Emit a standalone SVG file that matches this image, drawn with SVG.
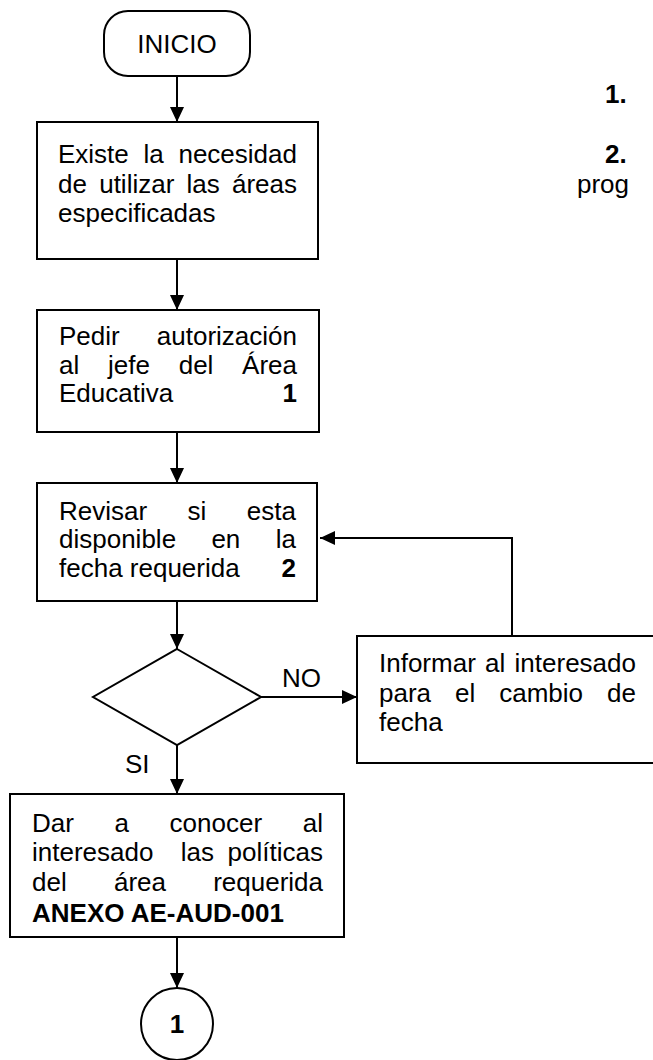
<svg xmlns="http://www.w3.org/2000/svg" width="653" height="1060" viewBox="0 0 653 1060">
<style>
.t{font-family:"Liberation Sans",Arial,sans-serif;font-size:26px;fill:#000}
.b{font-weight:bold}
.box{fill:#fff;stroke:#000;stroke-width:2}
.ln{fill:none;stroke:#000;stroke-width:2}
</style>
<defs>
<marker id="ah" markerUnits="userSpaceOnUse" markerWidth="16" markerHeight="16" refX="15" refY="7" orient="auto">
<path d="M0,0 L15,7 L0,14 z" fill="#000"/>
</marker>
</defs>
<rect width="653" height="1060" fill="#fff"/>
<g id="connectors">
<line class="ln" x1="177" y1="76" x2="177" y2="122" marker-end="url(#ah)"/>
<line class="ln" x1="177" y1="259" x2="177" y2="310" marker-end="url(#ah)"/>
<line class="ln" x1="177" y1="432" x2="177" y2="483" marker-end="url(#ah)"/>
<line class="ln" x1="177" y1="601" x2="177" y2="649" marker-end="url(#ah)"/>
<line class="ln" x1="177" y1="745" x2="177" y2="794" marker-end="url(#ah)"/>
<line class="ln" x1="261" y1="697" x2="357" y2="697" marker-end="url(#ah)"/>
<polyline class="ln" points="512,636 512,538 320,538" marker-end="url(#ah)"/>
<line class="ln" x1="177" y1="937" x2="177" y2="988" marker-end="url(#ah)"/>
<text class="t" x="282" y="687">NO</text>
<text class="t" x="125" y="773">SI</text>
</g>
<g id="inicio">
<rect class="box" x="104" y="11" width="146" height="65" rx="24"/>
<text class="t" x="177" y="53" text-anchor="middle">INICIO</text>
</g>
<g id="box1">
<rect class="box" x="37" y="122" width="281" height="137"/>
<text class="t" y="163"><tspan x="58">Existe</tspan><tspan x="143.5">la</tspan><tspan x="297" text-anchor="end">necesidad</tspan></text>
<text class="t" y="193"><tspan x="58">de</tspan><tspan x="99.2">utilizar</tspan><tspan x="186.6">las</tspan><tspan x="297" text-anchor="end">áreas</tspan></text>
<text class="t" x="58" y="222">especificadas</text>
</g>
<g id="box2">
<rect class="box" x="37" y="310" width="282" height="122"/>
<text class="t" y="345"><tspan x="59">Pedir</tspan><tspan x="297" text-anchor="end">autorización</tspan></text>
<text class="t" y="374"><tspan x="59">al</tspan><tspan x="108">jefe</tspan><tspan x="178.7">del</tspan><tspan x="297" text-anchor="end">Área</tspan></text>
<text class="t" y="402"><tspan x="59">Educativa</tspan><tspan x="297" text-anchor="end" class="b">1</tspan></text>
</g>
<g id="box3">
<rect class="box" x="37" y="483" width="280" height="118"/>
<text class="t" y="520"><tspan x="59">Revisar</tspan><tspan x="187.6">si</tspan><tspan x="296" text-anchor="end">esta</tspan></text>
<text class="t" y="548"><tspan x="59">disponible</tspan><tspan x="211.4">en</tspan><tspan x="296" text-anchor="end">la</tspan></text>
<text class="t" y="577"><tspan x="59">fecha requerida</tspan><tspan x="296" text-anchor="end" class="b">2</tspan></text>
</g>
<g id="decision">
<polygon class="box" points="177,649 261,697 177,745 93,697"/>
</g>
<g id="box4">
<rect class="box" x="357" y="636" width="305" height="127"/>
<text class="t" y="672"><tspan x="379">Informar</tspan><tspan x="485.1">al</tspan><tspan x="636" text-anchor="end">interesado</tspan></text>
<text class="t" y="702"><tspan x="379">para</tspan><tspan x="455">el</tspan><tspan x="499.2">cambio</tspan><tspan x="636" text-anchor="end">de</tspan></text>
<text class="t" x="379" y="731">fecha</text>
</g>
<g id="box5">
<rect class="box" x="10" y="794" width="334" height="143"/>
<text class="t" y="832"><tspan x="32">Dar</tspan><tspan x="114.5">a</tspan><tspan x="169.6">conocer</tspan><tspan x="323" text-anchor="end">al</tspan></text>
<text class="t" y="861"><tspan x="32">interesado</tspan><tspan x="180.7">las</tspan><tspan x="323" text-anchor="end">políticas</tspan></text>
<text class="t" y="891"><tspan x="32">del</tspan><tspan x="114">área</tspan><tspan x="323" text-anchor="end">requerida</tspan></text>
<text class="t b" x="32" y="922">ANEXO AE-AUD-001</text>
</g>
<g id="connector1">
<circle class="box" cx="177" cy="1024" r="36"/>
<text class="t b" x="177" y="1033" text-anchor="middle">1</text>
</g>
<g id="notes">
<text class="t b" x="605" y="103">1.</text>
<text class="t b" x="605" y="163">2.</text>
<text class="t" x="577" y="193">prog</text>
</g>
</svg>
